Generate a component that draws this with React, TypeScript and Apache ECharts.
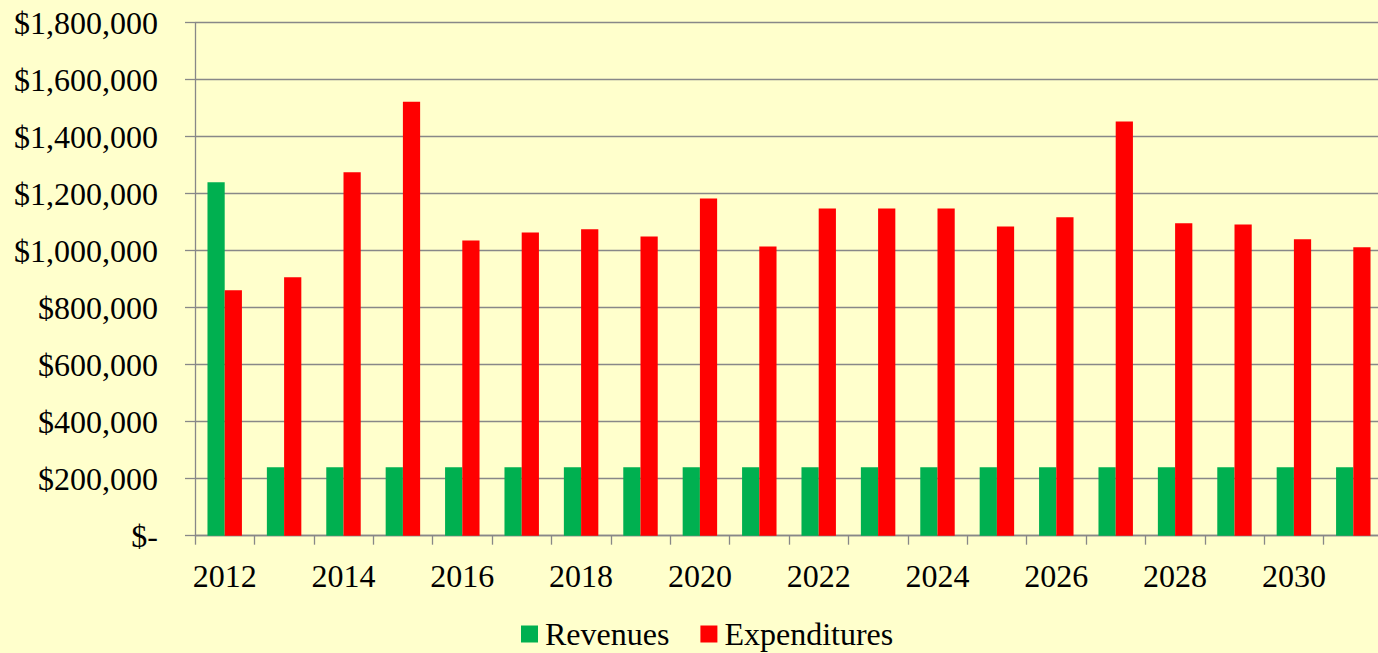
import React, { useEffect, useRef } from "react";
import * as echarts from "echarts";

const years = ["2012","2013","2014","2015","2016","2017","2018","2019","2020","2021","2022","2023","2024","2025","2026","2027","2028","2029","2030","2031"];
const revenues = [1240000,240000,240000,240000,240000,240000,240000,240000,240000,240000,240000,240000,240000,240000,240000,240000,240000,240000,240000,240000];
const expenditures = [861000,907000,1275000,1523000,1036000,1064000,1075000,1050000,1183000,1015000,1148000,1148000,1148000,1085000,1117000,1453000,1096000,1092000,1040000,1012000];

const FONT = "'Liberation Serif', 'Times New Roman', serif";

export default function App() {
  const ref = useRef<HTMLDivElement>(null);
  useEffect(() => {
    if (!ref.current) return;
    const chart = echarts.init(ref.current, undefined, { renderer: "svg" });
    chart.setOption({
      animation: false,
      backgroundColor: "#FFFFCC",
      textStyle: { fontFamily: FONT },
      grid: { left: 195, top: 22.7, width: 1188, height: 513, containLabel: false },
      legend: {
        top: 618,
        left: 521,
        padding: 0,
        itemWidth: 17,
        itemHeight: 17,
        itemGap: 31,
        icon: "rect",
        textStyle: { fontSize: 32, fontFamily: FONT, color: "#000", padding: [0, 0, 0, 2] },
        data: ["Revenues", "Expenditures"],
      },
      xAxis: {
        type: "category",
        data: years,
        axisLine: { lineStyle: { color: "#888888", width: 1.3 } },
        axisTick: { show: true, interval: 0, length: 9, lineStyle: { color: "#888888", width: 1.3 } },
        axisLabel: { interval: 1, fontSize: 32, fontFamily: FONT, color: "#000", margin: 24 },
      },
      yAxis: {
        type: "value",
        min: 0,
        max: 1800000,
        interval: 200000,
        axisLine: { show: true, lineStyle: { color: "#888888", width: 1.3 } },
        axisTick: { show: true, length: 10, lineStyle: { color: "#888888", width: 1.3 } },
        splitLine: { show: true, lineStyle: { color: "#888888", width: 1.3 } },
        axisLabel: {
          fontSize: 32,
          fontFamily: FONT,
          color: "#000",
          margin: 37,
          formatter: (v: number) => (v === 0 ? "$-" : "$" + v.toLocaleString("en-US")),
        },
      },
      series: [
        {
          name: "Revenues",
          type: "bar",
          data: revenues,
          itemStyle: { color: "#00B050" },
          barGap: "0%",
          barCategoryGap: "42%",
        },
        {
          name: "Expenditures",
          type: "bar",
          data: expenditures,
          itemStyle: { color: "#FF0000" },
          barGap: "0%",
          barCategoryGap: "42%",
        },
      ],
    });
    return () => chart.dispose();
  }, []);
  return (
    <div style={{ position: "fixed", left: 0, top: 0, width: 1378, height: 653, overflow: "hidden", background: "#FFFFCC" }}>
      <div ref={ref} style={{ position: "absolute", left: 0, top: 0, width: 1400, height: 653 }} />
    </div>
  );
}
